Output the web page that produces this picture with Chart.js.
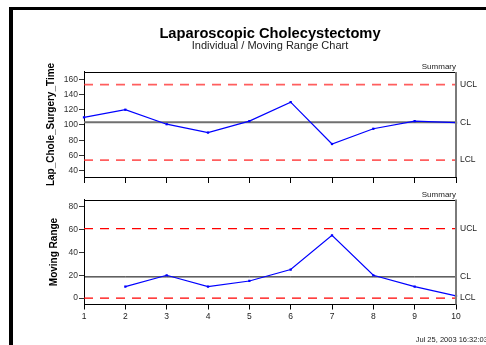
<!DOCTYPE html>
<html lang="en">
<head>
<meta charset="UTF-8">
<title>Laparoscopic Cholecystectomy</title>
<script src="https://cdn.jsdelivr.net/npm/chart.js"></script>
<style>
  html, body { margin: 0; padding: 0; background: #fff; overflow: hidden; width: 486px; height: 345px; }
  #frame { position: absolute; left: 9px; top: 7px; width: 700px; height: 700px;
           border-top: 3.5px solid #000; border-left: 4px solid #000; }
  .box { position: absolute; left: 13px; width: 473px; }
  #indBox { top: 10px; height: 185px; }
  #mrBox { top: 183px; height: 162px; }
</style>
</head>
<body>
<div id="frame"></div>
<div class="box" id="indBox"><canvas id="indChart"></canvas></div>
<div class="box" id="mrBox"><canvas id="mrChart"></canvas></div>
<script>
// sample numbers on the x axis
const samples = ['1', '2', '3', '4', '5', '6', '7', '8', '9', '10'];

// individuals chart
const surgeryTime = [110, 120, 101, 90, 105, 130, 75, 95, 105, 103];
const indUCL = 152.9, indCL = 103.4, indLCL = 53.9;
const indTicks = [40, 60, 80, 100, 120, 140, 160];
const indMin = 31.7, indMax = 169.6;

// moving range chart
const movingRange = [null, 10, 20, 10, 15, 25, 55, 20, 10, 2];
const mrUCL = 60.8, mrCL = 18.6, mrLCL = 0;
const mrTicks = [0, 20, 40, 60, 80];
const mrMin = -5.6, mrMax = 86.4;

const FONT = '"Liberation Sans", Arial, sans-serif';

// plot frame (top/right), "Summary", UCL/CL/LCL labels, footer
const controlMarks = {
    id: 'controlMarks',
    afterDatasetsDraw(chart, args, opts) {
        const {ctx, chartArea: a, scales: {y}} = chart;
        ctx.save();
        ctx.strokeStyle = '#000';
        ctx.lineWidth = 1;
        ctx.beginPath();
        ctx.moveTo(a.left, Math.round(a.top) + 0.5);
        ctx.lineTo(a.right, Math.round(a.top) + 0.5);
        ctx.stroke();
        ctx.strokeStyle = '#7a7a7a';
        ctx.lineWidth = 2;
        ctx.beginPath();
        ctx.moveTo(a.right, a.top);
        ctx.lineTo(a.right, a.bottom);
        ctx.stroke();

        ctx.fillStyle = '#222';
        ctx.font = '8px ' + FONT;
        ctx.textAlign = 'right';
        ctx.textBaseline = 'bottom';
        ctx.fillText('Summary', a.right, a.top - 1);

        ctx.font = '8.5px ' + FONT;
        ctx.textAlign = 'left';
        ctx.textBaseline = 'middle';
        opts.limits.forEach(([name, v]) => {
            ctx.fillText(name, a.right + 4, y.getPixelForValue(v));
        });

        if (opts.footer) {
            ctx.font = '7.5px ' + FONT;
            ctx.fillText(opts.footer, 402.7, 156.5);
        }
        ctx.restore();
    }
};

function limitSet(value, color, width, dash) {
    return {
        data: samples.map(() => value),
        borderColor: color,
        borderWidth: width,
        borderDash: dash,
        pointRadius: 0,
        fill: false
    };
}

function makeChart(id, cfg) {
    return new Chart(document.getElementById(id), {
        type: 'line',
        data: {
            labels: samples,
            datasets: [{
                data: cfg.values,
                borderColor: '#0000ff',
                backgroundColor: '#0000ff',
                borderWidth: 1.2,
                pointStyle: 'rect',
                pointRadius: 1.6,
                pointBorderWidth: 0,
                spanGaps: false
            },
                limitSet(cfg.limits[0][1], cfg.limitColor, cfg.limitWidth, [9, 7]),
                limitSet(cfg.limits[1][1], cfg.clColor, cfg.clWidth, []),
                limitSet(cfg.limits[2][1], cfg.limitColor, cfg.limitWidth, [9, 7])
            ]
        },
        options: {
            responsive: true,
            maintainAspectRatio: false,
            animation: false,
            layout: {padding: {left: 0, right: 30, top: cfg.padTop, bottom: 0}},
            plugins: {
                legend: {display: false},
                tooltip: {enabled: false},
                title: cfg.title,
                subtitle: cfg.subtitle,
                controlMarks: {limits: cfg.limits, footer: cfg.footer}
            },
            scales: {
                x: {
                    offset: false,
                    afterFit: s => { s.height = cfg.xHeight; },
                    border: {display: true, color: '#000', width: 1},
                    grid: {drawOnChartArea: false, drawTicks: true, tickLength: cfg.xTickLen, color: '#000'},
                    ticks: {
                        display: cfg.xLabels,
                        maxRotation: 0,
                        autoSkip: false,
                        padding: 2,
                        color: '#222',
                        font: {family: FONT, size: 8.5}
                    }
                },
                y: {
                    min: cfg.min,
                    max: cfg.max,
                    afterFit: s => { s.width = 71; },
                    afterBuildTicks: s => { s.ticks = cfg.ticks.map(v => ({value: v})); },
                    border: {display: true, color: '#000', width: 1},
                    grid: {drawOnChartArea: false, drawTicks: true, tickLength: 5, color: '#333'},
                    ticks: {padding: 1, color: '#333', font: {family: FONT, size: 8.5}},
                    title: {
                        display: true,
                        text: cfg.yTitle,
                        color: '#000',
                        font: {family: FONT, size: 10, weight: 'bold', lineHeight: 1.2},
                        padding: {top: cfg.yTitlePad, bottom: 0}
                    }
                }
            }
        },
        plugins: [controlMarks]
    });
}

makeChart('indChart', {
    values: surgeryTime,
    limits: [['UCL', indUCL], ['CL', indCL], ['LCL', indLCL]],
    limitColor: 'rgba(255, 40, 40, 0.75)', limitWidth: 1.8,
    clColor: '#707070', clWidth: 2,
    min: indMin, max: indMax, ticks: indTicks,
    padTop: 0, xHeight: 18, xTickLen: 6, xLabels: false,
    yTitle: 'Lap_Chole_Surgery_Time', yTitlePad: 32,
    title: {
        display: true, fullSize: false,
        text: 'Laparoscopic Cholecystectomy',
        color: '#000',
        font: {family: FONT, size: 14.7, weight: 'bold', lineHeight: 0.9},
        padding: {top: 17.7, bottom: 0}
    },
    subtitle: {
        display: true, fullSize: false,
        text: 'Individual / Moving Range Chart',
        color: '#222',
        font: {family: FONT, size: 11, lineHeight: 0.9},
        padding: {top: 0, bottom: 21.1}
    }
});

makeChart('mrChart', {
    values: movingRange,
    limits: [['UCL', mrUCL], ['CL', mrCL], ['LCL', mrLCL]],
    limitColor: '#ff0000', limitWidth: 1.3,
    clColor: '#000', clWidth: 1,
    min: mrMin, max: mrMax, ticks: mrTicks,
    padTop: 16.5, xHeight: 40.5, xTickLen: 5, xLabels: true,
    yTitle: 'Moving Range', yTitlePad: 35,
    title: {display: false},
    subtitle: {display: false},
    footer: 'Jul 25, 2003 16:32:03'
});
</script>
</body>
</html>
